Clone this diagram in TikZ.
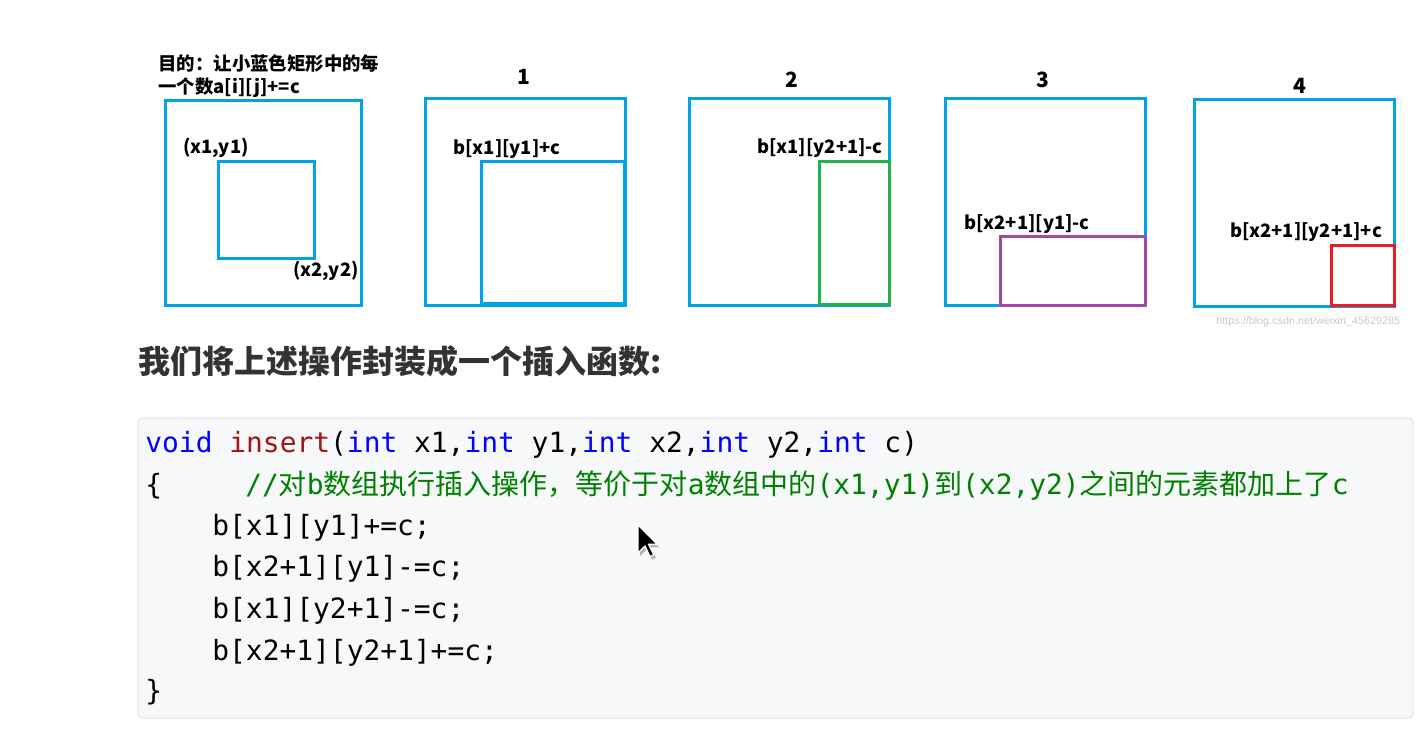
\documentclass[tikz,border=0pt]{standalone}
\usepackage{fontspec}
\newfontfamily\cjk{Noto Sans CJK SC}
\newfontfamily\codefont{DejaVu Sans Mono}
\newfontfamily\wmfont{Liberation Sans}
\definecolor{pblue}{HTML}{00A2E8}
\definecolor{pgreen}{HTML}{22B14C}
\definecolor{ppurple}{HTML}{A349A4}
\definecolor{pred}{HTML}{ED1C24}
\definecolor{kw}{RGB}{0,0,255}
\definecolor{fn}{RGB}{163,21,21}
\definecolor{cm}{RGB}{0,128,0}
\definecolor{headc}{HTML}{333333}
\definecolor{codebg}{HTML}{F6F8FA}
\definecolor{codeborder}{HTML}{E6E8EB}
\newcommand{\cz}[1]{{\cjk\fontsize{14pt}{16pt}\selectfont #1}}
\tikzset{
  frame/.style={draw=pblue, line width=1.5pt},
  lbl/.style={inner sep=0pt, font=\fontsize{9.2pt}{11pt}\cjk\bfseries, text=black},
  num/.style={inner sep=0pt, font=\fontsize{10.5pt}{12pt}\cjk\bfseries, text=black},
  codeline/.style={inner sep=0pt, anchor=base west, font=\fontsize{13.95pt}{16pt}\codefont, text=black},
}
\begin{document}
\begin{tikzpicture}[x=0.5pt,y=-0.5pt]
\useasboundingbox (0,0) rectangle (1418,734);
% panel 0
\draw[frame] (165,100) rectangle (361,305);
\draw[frame] (218,161) rectangle (314,258);
\node[lbl, anchor=west] (t1) at (158,63) {目的：让小蓝色矩形中的每};
\node[lbl, anchor=west] (t2) at (158,88) {一个数a[i][j]+=c};
\node[lbl] (p1) at (216,148) {(x1,y1)};
\node[lbl] (p2) at (326,271) {(x2,y2)};
% panel 1
\node[num] (n1) at (524,77) {1};
\draw[frame] (425,98) rectangle (625,305);
\draw[frame] (481,161) rectangle (624,303);
\node[lbl] (l1) at (507,149) {b[x1][y1]+c};
% panel 2
\node[num] (n2) at (792,80) {2};
\draw[frame] (689,98) rectangle (889,305);
\draw[draw=pgreen, line width=1.5pt] (819,161) rectangle (889,304);
\node[lbl] (l2) at (820,148) {b[x1][y2+1]-c};
% panel 3
\node[num] (n3) at (1043,80) {3};
\draw[frame] (945,98) rectangle (1145,305);
\draw[draw=ppurple, line width=1.5pt] (1000,236) rectangle (1145,305);
\node[lbl] (l3) at (1027,224) {b[x2+1][y1]-c};
% panel 4
\node[num] (n4) at (1300,86) {4};
\draw[frame] (1194,99) rectangle (1394,306);
\draw[draw=pred, line width=1.5pt] (1331,245) rectangle (1394,305);
\node[lbl] (l4) at (1306,232) {b[x2+1][y2+1]+c};
% watermark
\node[inner sep=0pt, anchor=west, text=black!22, font=\fontsize{5.4pt}{6pt}\wmfont] (wm) at (1216,322) {https://blog.csdn.net/weixin\_45629285};
% heading
\node[inner sep=0pt, anchor=west, text=headc, font=\fontsize{16pt}{18pt}\cjk\bfseries] (head) at (138,361) {我们将上述操作封装成一个插入函数:};
% code block
\draw[draw=codeborder, fill=codebg, line width=0.6pt, rounded corners=2pt] (138,418) rectangle (1413,718);
\node[codeline] (c1) at (145,452) {\textcolor{kw}{void} \textcolor{fn}{insert}(\textcolor{kw}{int} x1,\textcolor{kw}{int} y1,\textcolor{kw}{int} x2,\textcolor{kw}{int} y2,\textcolor{kw}{int} c)};
\node[codeline] (c2) at (145,494) {\{};
\node[codeline, text=cm] (c2b) at (245,494) {//\cz{对}b\cz{数组执行插入操作，等价于对}a\cz{数组中的}(x1,y1)\cz{到}(x2,y2)\cz{之间的元素都加上了}c};
\node[codeline] (c3) at (212,535) {b[x1][y1]+=c;};
\node[codeline] (c4) at (212,576) {b[x2+1][y1]-=c;};
\node[codeline] (c5) at (212,618) {b[x1][y2+1]-=c;};
\node[codeline] (c6) at (212,660) {b[x2+1][y2+1]+=c;};
\node[codeline] (c7) at (145,700) {\}};
% mouse cursor
\fill[black!30] (640,528) -- (640,556) -- (647,549) -- (652,559.5) -- (655.75,557.75) -- (650.5,547.25) -- (659.25,547.25) -- cycle;
\draw[fill=black, draw=white, line width=0.6pt, line join=round] (638,525) -- (638,553) -- (645,546) -- (650,556.5) -- (653.75,554.75) -- (648.5,544.25) -- (657.25,544.25) -- cycle;
\end{tikzpicture}
\end{document}
